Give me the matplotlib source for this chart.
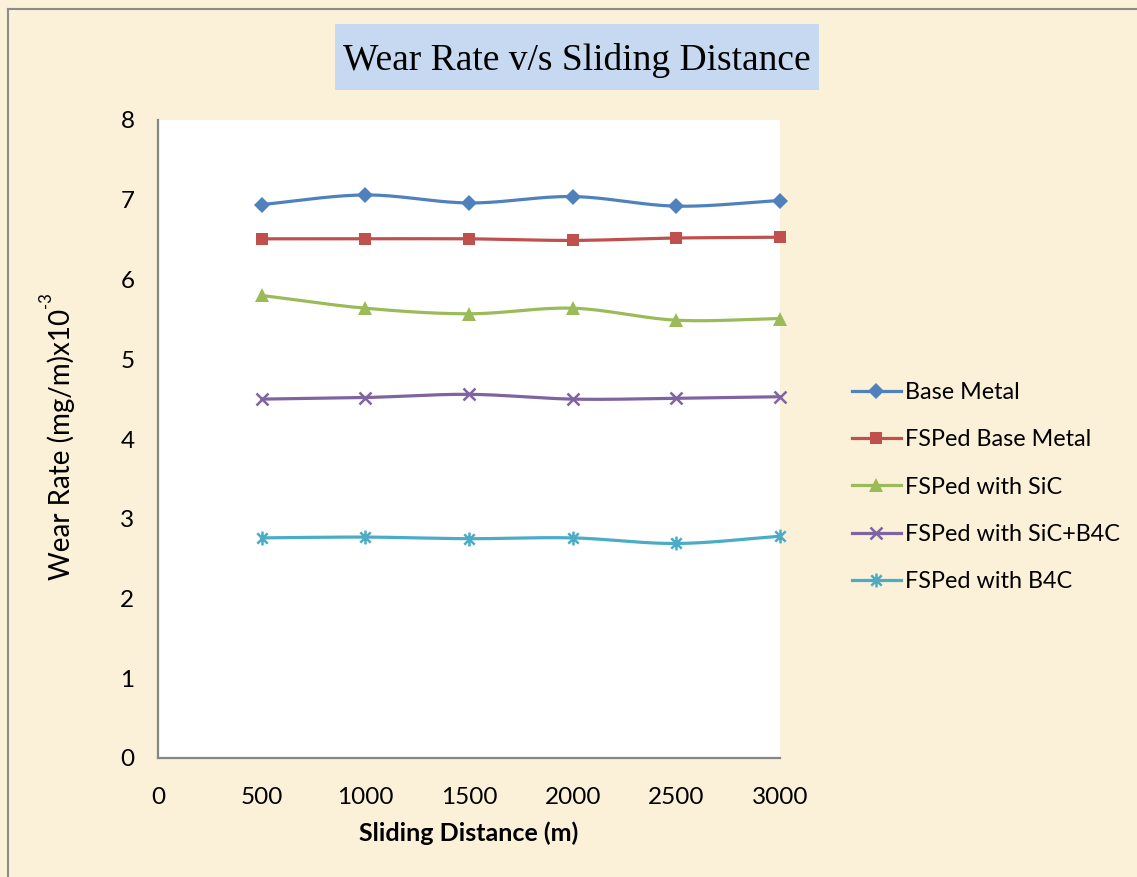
import numpy as np
import matplotlib
matplotlib.use("Agg")
import matplotlib.pyplot as plt
from matplotlib.path import Path
from matplotlib.lines import Line2D
from matplotlib.patches import Rectangle

# ---- data ----
distance = [500, 1000, 1500, 2000, 2500, 3000]
base_metal = [6.94, 7.06, 6.96, 7.04, 6.92, 6.99]
fsp_base_metal = [6.51, 6.51, 6.51, 6.49, 6.52, 6.53]
fsp_sic = [5.80, 5.64, 5.57, 5.64, 5.49, 5.51]
fsp_sic_b4c = [4.50, 4.52, 4.56, 4.50, 4.51, 4.53]
fsp_b4c = [2.76, 2.77, 2.75, 2.76, 2.69, 2.78]

series_names = ["Base Metal", "FSPed Base Metal", "FSPed with SiC",
                "FSPed with SiC+B4C", "FSPed with B4C"]
x_ticks = [0, 500, 1000, 1500, 2000, 2500, 3000]
y_ticks = [0, 1, 2, 3, 4, 5, 6, 7, 8]

# ---- styling ----
colors = ["#4F81BD", "#C0504D", "#9BBB59", "#8064A2", "#4BACC6"]
asterisk = Path([(0, -1), (0, 1), (-0.75, -0.75), (0.75, 0.75),
                 (-0.75, 0.75), (0.75, -0.75)],
                [Path.MOVETO, Path.LINETO, Path.MOVETO, Path.LINETO,
                 Path.MOVETO, Path.LINETO])
markers = [("D", 8.5, 0), ("s", 8.5, 0), ("^", 9.5, 0), ("x", 9, 1.8),
           (asterisk, 10, 1.8)]

bg = "#FBF0D8"
sans = ["Lato", "DejaVu Sans"]


def smooth(xs, ys, n=30):
    """Catmull-Rom curve through the points (Excel-like smoothed line)."""
    xs = np.asarray(xs, float)
    ys = np.asarray(ys, float)
    px = np.concatenate([[2 * xs[0] - xs[1]], xs, [2 * xs[-1] - xs[-2]]])
    py = np.concatenate([[2 * ys[0] - ys[1]], ys, [2 * ys[-1] - ys[-2]]])
    out_x, out_y = [], []
    t = np.linspace(0, 1, n, endpoint=False)
    for i in range(1, len(px) - 2):
        for arr, out in ((px, out_x), (py, out_y)):
            p0, p1, p2, p3 = arr[i - 1], arr[i], arr[i + 1], arr[i + 2]
            out.extend(0.5 * ((2 * p1) + (-p0 + p2) * t
                              + (2 * p0 - 5 * p1 + 4 * p2 - p3) * t ** 2
                              + (-p0 + 3 * p1 - 3 * p2 + p3) * t ** 3))
    out_x.append(xs[-1])
    out_y.append(ys[-1])
    return np.array(out_x), np.array(out_y)


W, H = 1137, 877
fig = plt.figure(figsize=(W / 100, H / 100), dpi=100, facecolor=bg)

# frame lines along the left and top edges
frame_kw = dict(transform=fig.transFigure, color="#8C8C8C", lw=1.5)
fig.add_artist(Line2D([8 / W, 8 / W], [0, 1 - 9 / H], **frame_kw))
fig.add_artist(Line2D([8 / W, 1], [1 - 9 / H, 1 - 9 / H], **frame_kw))

left, right, top, bottom = 158, 780, 120, 758
ax = fig.add_axes([left / W, 1 - bottom / H, (right - left) / W, (bottom - top) / H])
ax.set_facecolor("white")
ax.set_xlim(0, 3000)
ax.set_ylim(0, 8)

all_series = [base_metal, fsp_base_metal, fsp_sic, fsp_sic_b4c, fsp_b4c]
handles = []
for ys, name, c, (m, ms, mew) in zip(all_series, series_names, colors, markers):
    sx, sy = smooth(distance, ys)
    ax.plot(sx, sy, color=c, lw=2.3, solid_capstyle="round", clip_on=False)
    ax.plot(distance, ys, linestyle="none", marker=m, markersize=ms,
            color=c, markeredgewidth=mew, clip_on=False, zorder=3)
    handles.append(Line2D([], [], color=c, lw=2.3, marker=m, markersize=ms,
                          markeredgewidth=mew, label=name))

for s in ["top", "right"]:
    ax.spines[s].set_visible(False)
for s in ["left", "bottom"]:
    ax.spines[s].set_color("#868686")
    ax.spines[s].set_linewidth(1.6)

ax.set_xticks(x_ticks)
ax.set_yticks(y_ticks)
ax.set_xticklabels([str(v) for v in x_ticks], family=sans, fontsize=17.5)
ax.set_yticklabels([str(v) for v in y_ticks], family=sans, fontsize=17.5)
ax.tick_params(axis="y", length=0, pad=17)
ax.tick_params(axis="x", length=0, pad=21)

# y-axis title with a small raised "-3"
ylab = fig.text(61 / W, 1 - 580 / H, "Wear Rate (mg/m)x10", rotation=90,
                ha="center", va="bottom", family=sans, fontsize=20)
renderer = fig.canvas.get_renderer()
bb = ylab.get_window_extent(renderer)
fig.text((bb.x0 - 1) / W, (bb.y1 + 1) / H, "-3", rotation=90,
         ha="center", va="bottom", family=sans, fontsize=12)

fig.text(469 / W, 1 - 833 / H, "Sliding Distance (m)", ha="center", va="center",
         family=sans, fontsize=18, fontweight="bold")

# title in a shaded box
fig.add_artist(Rectangle((335 / W, 1 - 90 / H), (819 - 335) / W, 66 / H,
                         transform=fig.transFigure, facecolor="#C6D9F1",
                         edgecolor="none"))
fig.text(577 / W, 1 - 61 / H, "Wear Rate v/s Sliding Distance", ha="center",
         va="center", family=["Liberation Serif", "DejaVu Serif"], fontsize=27)

fig.legend(handles=handles, loc="center left",
           bbox_to_anchor=(840 / W, 1 - 487 / H), frameon=False,
           prop={"family": sans, "size": 16.8}, handlelength=2.1,
           handletextpad=0.2, labelspacing=1.13, borderpad=0)

fig.savefig("out.png", dpi=100, facecolor=bg)
